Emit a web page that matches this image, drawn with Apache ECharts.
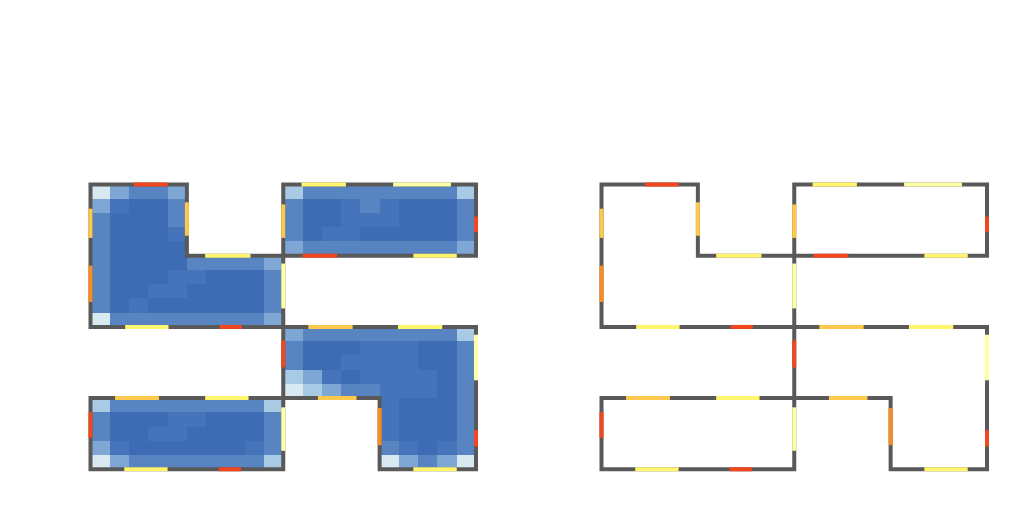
<!DOCTYPE html>
<html>
<head>
<meta charset="utf-8">
<script src="https://cdn.jsdelivr.net/npm/echarts@6/dist/echarts.min.js"></script>
<style>html,body{margin:0;padding:0;background:#fff}#c{width:1024px;height:512px}</style>
</head>
<body>
<div id="c"></div>
<script>
// Floor-plan extent (units) and heat grid resolution
const planSize = 4;
const gridCells = 20;

// Heat levels (0 = coolest blue ... 9 = red), rows from top, null = outside rooms
const N = null;
const heatRowsTop = [
  [6,4,3,3,4, N,N,N,N,N, 5,3,3,3,3,3,3,3,3,5],
  [4,2,1,1,3, N,N,N,N,N, 3,1,1,2,3,2,1,1,1,3],
  [3,1,1,1,3, N,N,N,N,N, 3,1,1,2,2,2,1,1,1,3],
  [3,1,1,1,2, N,N,N,N,N, 3,1,2,2,1,1,1,1,1,3],
  [3,1,1,1,1, N,N,N,N,N, 4,3,3,3,3,3,3,3,3,4],
  [3,1,1,1,1,3,3,3,3,4, N,N,N,N,N,N,N,N,N,N],
  [3,1,1,1,2,2,1,1,1,3, N,N,N,N,N,N,N,N,N,N],
  [3,1,1,2,2,1,1,1,1,3, N,N,N,N,N,N,N,N,N,N],
  [3,1,2,1,1,1,1,1,1,3, N,N,N,N,N,N,N,N,N,N],
  [6,3,3,3,3,3,3,3,3,4, N,N,N,N,N,N,N,N,N,N]
];
const heatRowsBottom = [
  [N,N,N,N,N,N,N,N,N,N, 4,3,3,3,3,3,3,3,3,5],
  [N,N,N,N,N,N,N,N,N,N, 3,1,1,1,2,2,2,1,1,3],
  [N,N,N,N,N,N,N,N,N,N, 3,1,1,2,2,2,2,1,1,3],
  [N,N,N,N,N,N,N,N,N,N, 5,4,2,1,2,2,2,2,1,3],
  [N,N,N,N,N,N,N,N,N,N, 6,5,4,3,3,2,2,2,1,3],
  [5,3,3,3,3,3,3,3,3,5, N,N,N,N,N, 2,1,1,1,3],
  [3,1,1,1,2,2,1,1,1,3, N,N,N,N,N, 2,1,1,1,3],
  [3,1,1,2,2,1,1,1,1,3, N,N,N,N,N, 2,1,1,1,3],
  [4,2,1,1,1,1,1,1,2,3, N,N,N,N,N, 3,2,1,2,3],
  [6,4,3,3,3,3,3,3,3,5, N,N,N,N,N, 6,4,3,4,6]
];

// Room outlines (unit coordinates, y up)
const roomA = [[0,4],[1,4],[1,3],[2,3],[2,2],[0,2]];
const roomB = [[2,4],[4,4],[4,3],[2,3]];
const roomC = [[2,2],[4,2],[4,0],[3,0],[3,1],[2,1]];
const roomD = [[0,1],[2,1],[2,0],[0,0]];
const rooms = [roomA, roomB, roomC, roomD];

// Wall openings: [x1, y1, x2, y2, level]  level 0 pale yellow ... 4 red
const segmentsA = [
  [0.45,4,0.80,4,4],[0,3.66,0,3.25,2],[0,2.86,0,2.35,3],[1,3.75,1,3.28,2],
  [1.19,3,1.66,3,1],[2,2.89,2,2.26,0],[0.36,2,0.81,2,1],[1.34,2,1.57,2,4]
];
const segmentsB = [
  [2.19,4,2.65,4,1],[3.14,4,3.74,4,0],[2,3.72,2,3.25,2],[4,3.55,4,3.33,4],
  [2.20,3,2.56,3,4],[3.35,3,3.80,3,1]
];
const segmentsC = [
  [2.26,2,2.72,2,2],[3.19,2,3.65,2,1],[2,1.81,2,1.43,4],[2.36,1,2.76,1,2],
  [3,0.86,3,0.34,3],[4,1.89,4,1.25,0],[4,0.55,4,0.32,4],[3.35,0,3.80,0,1]
];
const segmentsD = [
  [0.255,1,0.71,1,2],[1.19,1,1.64,1,1],[0,0.80,0,0.44,4],[2,0.87,2,0.26,0],
  [0.35,0,0.80,0,1],[1.33,0,1.56,0,4]
];

// Styles
const heatColors = ['#3763ad','#3d6bb4','#4674ba','#5885c2','#7ea7d5','#a9cae5','#d9e9f1','#fdf3b0','#fba85e','#d73027'];
const segmentColors = ['#ffffa6','#fff56e','#fdc84c','#f98c24','#f2461f'];
const wallColor = '#595959';
const wallWidth = 4;

// Build data
const heatData = [];
[...heatRowsTop, ...heatRowsBottom].forEach((row, r) => {
  row.forEach((v, c) => { if (v !== null) heatData.push([c, r, v]); });
});
const segments = [...segmentsA, ...segmentsB, ...segmentsC, ...segmentsD];
const roomIdx = rooms.map((_, i) => [i]);
const cell = planSize / gridCells;

function heatItem(params, api) {
  const c = api.value(0), r = api.value(1);
  const p0 = api.coord([c * cell, planSize - r * cell]);
  const p1 = api.coord([(c + 1) * cell, planSize - (r + 1) * cell]);
  const x = Math.round(p0[0]), y = Math.round(p0[1]);
  return { type: 'rect', shape: { x: x, y: y, width: Math.round(p1[0]) - x, height: Math.round(p1[1]) - y },
           style: { fill: api.visual('color') } };
}
function wallItem(params, api) {
  const pts = rooms[api.value(0)].map(p => api.coord(p));
  return { type: 'polygon', shape: { points: pts },
           style: { fill: 'none', stroke: wallColor, lineWidth: wallWidth, lineJoin: 'miter' } };
}
function segItem(params, api) {
  const a = api.coord([api.value(0), api.value(1)]);
  const b = api.coord([api.value(2), api.value(3)]);
  return { type: 'line', shape: { x1: a[0], y1: a[1], x2: b[0], y2: b[1] },
           style: { stroke: segmentColors[api.value(4)], lineWidth: wallWidth, lineCap: 'butt' } };
}

const gridBox = { top: 184.5, width: 385.5, height: 284.8 };
const axisX = i => ({ gridIndex: i, type: 'value', min: 0, max: planSize, show: false });
const axisY = i => ({ gridIndex: i, type: 'value', min: 0, max: planSize, show: false });

const chart = echarts.init(document.getElementById('c'), null, { renderer: 'canvas' });
chart.setOption({
  backgroundColor: '#ffffff',
  animation: false,
  grid: [
    Object.assign({ left: 90.5 }, gridBox),
    Object.assign({ left: 601.5 }, gridBox)
  ],
  xAxis: [axisX(0), axisX(1)],
  yAxis: [axisY(0), axisY(1)],
  visualMap: {
    type: 'continuous', show: false, min: 0, max: heatColors.length - 1,
    dimension: 2, seriesIndex: 0, inRange: { color: heatColors }
  },
  series: [
    { type: 'custom', xAxisIndex: 0, yAxisIndex: 0, clip: false, renderItem: heatItem, data: heatData, encode: { x: 0, y: 1 } },
    { type: 'custom', xAxisIndex: 0, yAxisIndex: 0, clip: false, renderItem: wallItem, data: roomIdx },
    { type: 'custom', xAxisIndex: 0, yAxisIndex: 0, clip: false, renderItem: segItem, data: segments },
    { type: 'custom', xAxisIndex: 1, yAxisIndex: 1, clip: false, renderItem: wallItem, data: roomIdx },
    { type: 'custom', xAxisIndex: 1, yAxisIndex: 1, clip: false, renderItem: segItem, data: segments }
  ]
});
</script>
</body>
</html>
